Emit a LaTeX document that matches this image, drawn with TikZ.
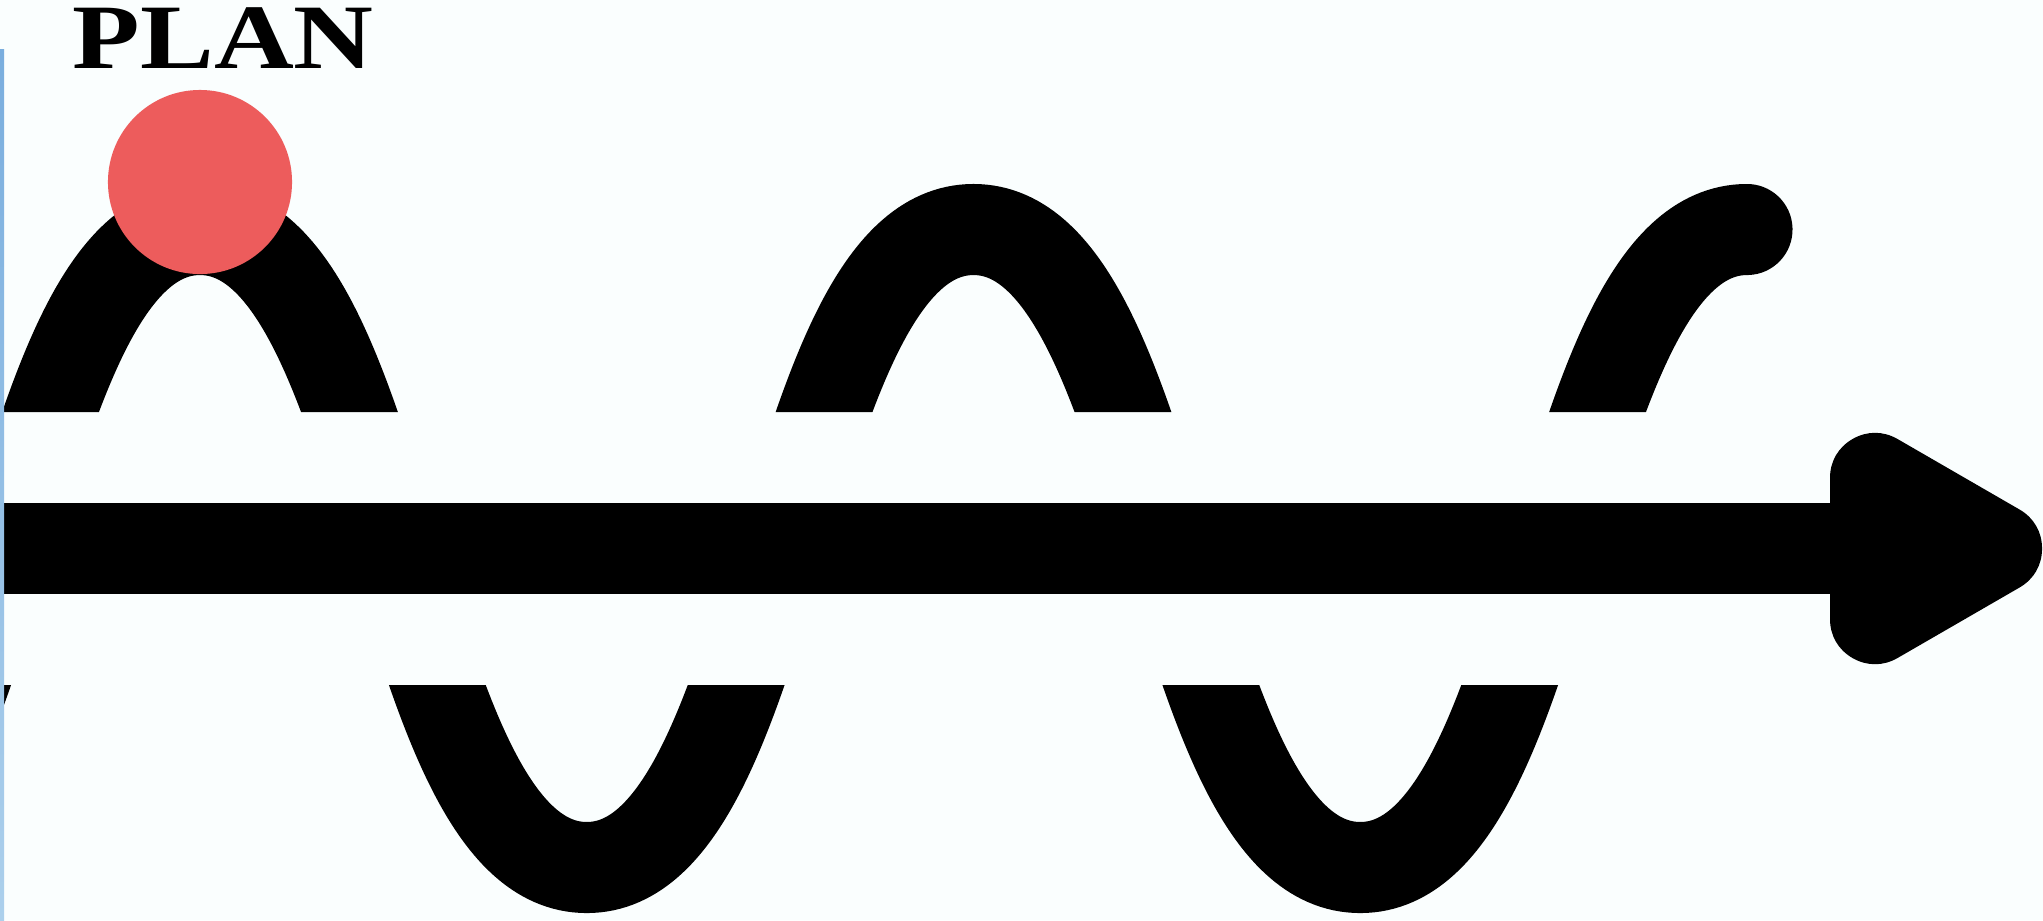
\documentclass[tikz,border=0pt]{standalone}
\usepackage{fontspec}
\setmainfont{Liberation Serif}
\definecolor{bg}{RGB}{250,254,254}
\definecolor{dotred}{RGB}{237,92,92}
\definecolor{railtop}{RGB}{122,174,222}
\definecolor{railbot}{RGB}{172,208,236}
\tikzset{
  road/.style={line width=0.91cm, draw=black, line cap=round},
  bar/.style={line width=0.91cm, draw=black},
  tip/.style={line width=0.9cm, draw=black, fill=black, line join=round},
  dotstyle/.style={circle, fill=dotred, minimum size=1.84cm, inner sep=0pt},
  titlestyle/.style={anchor=base west, inner sep=0pt, font=\fontsize{26.2pt}{30pt}\selectfont\bfseries}
}
\begin{document}
\begin{tikzpicture}[x=0.01cm,y=-0.01cm]
\fill[bg] (0,0) rectangle (2043,920);
\useasboundingbox (0,0) rectangle (2043,920);
% wave turning points
\coordinate (t0) at (-186.75,867.5);
\coordinate (c1) at (200,229.5);
\coordinate (t1) at (586.75,867.5);
\coordinate (c2) at (973.5,229.5);
\coordinate (t2) at (1360.25,867.5);
\coordinate (c3) at (1747,229.5);
\begin{scope}
  \clip (0,0) rectangle (2043,412) (0,685) rectangle (2043,920);
  \draw[road] (t0) .. controls (6.6,867.5) and (6.6,229.5) .. (c1)
                   .. controls (393.4,229.5) and (393.4,867.5) .. (t1)
                   .. controls (780.1,867.5) and (780.1,229.5) .. (c2)
                   .. controls (1166.9,229.5) and (1166.9,867.5) .. (t2)
                   .. controls (1553.6,867.5) and (1553.6,229.5) .. (c3);
\end{scope}
\coordinate (start) at (0,548.5);
\coordinate (head) at (1875,548.5);
\draw[bar] (start) -- (head);
\draw[tip] (1875,478) -- (1997,548.5) -- (1875,619) -- cycle;
\node[dotstyle] (dot) at (200,182) {};
\node[titlestyle] (title) at (72,68) {\scalebox{1.2}[1]{PLAN}};
\shade[top color=railtop, bottom color=railbot] (0,49) rectangle (4,920);
\end{tikzpicture}
\end{document}
